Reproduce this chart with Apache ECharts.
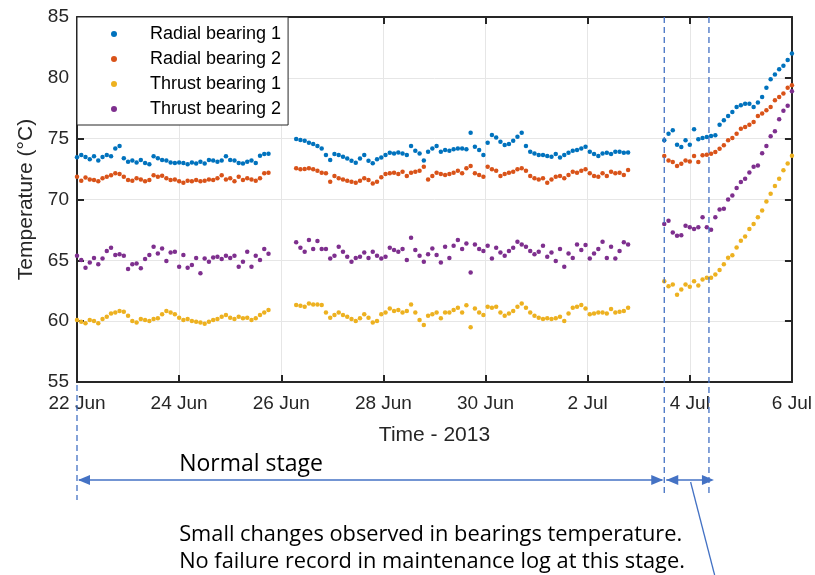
<!DOCTYPE html>
<html>
<head>
<meta charset="utf-8">
<script src="https://cdn.jsdelivr.net/npm/echarts@6/dist/echarts.min.js"></script>
<style>
html,body{margin:0;padding:0;background:#fff;}
#main{width:815px;height:575px;}
</style>
</head>
<body>
<div id="main"></div>
<script>
// ---- data (hours since 22 Jun 2013 00:00, one reading every 2 h per segment) ----
const seriesNames = ['Radial bearing 1', 'Radial bearing 2', 'Thrust bearing 1', 'Thrust bearing 2'];
const seriesColors = ['#0072BD', '#D95319', '#EDB120', '#7E2F8E'];
const segmentStartHours = [0, 103, 276];
const stepHours = 2;
const xTickLabels = ['22 Jun', '24 Jun', '26 Jun', '28 Jun', '30 Jun', '2 Jul', '4 Jul', '6 Jul'];
const stageBoundaryHours = [0, 276, 297];

const radial1Seg1 = [73.47,73.66,73.5,73.3,73.55,73.2,73.5,73.66,73.55,74.2,74.4,73.4,73.1,73.2,73.05,73.25,73.0,72.9,73.55,73.4,73.25,73.2,73.05,73.0,73.05,73.0,72.9,73.05,72.95,73.1,72.95,73.25,73.2,73.1,73.2,73.55,73.25,73.2,73.0,72.95,73.1,73.2,73.0,73.6,73.74,73.77];
const radial1Seg2 = [74.97,74.89,74.83,74.67,74.56,74.39,74.2,73.65,73.24,73.74,73.65,73.52,73.38,73.19,73.02,73.38,73.65,73.19,72.97,73.3,73.46,73.65,73.85,73.79,73.87,73.79,73.65,74.39,74.01,73.79,73.2,73.93,74.2,74.39,73.93,74.06,74.01,74.12,74.2,
  74.2,74.12,75.49,74.34,74.06,73.65,74.67,75.3,75.1,74.75,74.48,74.56,74.83,75.16,75.49,74.39,73.93,73.79,73.65,73.65,73.57,73.52,73.74,73.46,73.65,73.85,74.01,74.06,74.2,74.34,73.93,73.74,73.57,73.79,73.85,73.74,73.93,73.93,73.85,73.87];
const radial1Seg3 = [74.86,75.41,75.69,74.51,74.31,74.86,74.51,75.77,74.95,75.06,75.14,75.22,75.28,76.15,76.51,76.87,77.2,77.61,77.75,77.88,77.88,77.61,77.97,78.43,79.18,79.89,80.27,80.71,80.99,81.46,82.0];

const radial2Seg1 = [71.87,71.55,71.8,71.65,71.6,71.5,71.75,71.87,72.0,72.15,72.1,71.87,71.6,71.55,71.75,71.65,71.5,71.6,72.0,71.87,71.95,71.75,71.6,71.65,71.5,71.37,71.55,71.5,71.6,71.5,71.55,71.65,71.6,71.75,72.0,71.65,71.75,71.5,71.87,71.6,71.75,71.65,71.55,71.75,72.15,72.2];
const radial2Seg2 = [72.56,72.48,72.5,72.56,72.48,72.37,72.2,72.15,71.46,71.93,71.74,71.65,71.54,71.46,71.38,71.54,71.74,71.6,71.32,71.46,71.82,72.09,72.15,72.2,72.09,72.28,71.93,72.2,72.28,72.37,72.7,71.65,71.93,72.2,72.09,72.01,72.09,72.2,72.37,
  72.15,72.56,72.75,72.15,72.01,71.87,72.7,72.48,72.37,71.93,72.09,72.2,72.28,72.48,72.56,72.37,71.93,71.74,71.65,71.74,71.38,71.65,71.87,71.93,71.74,72.01,72.28,72.2,72.37,72.48,72.15,71.93,71.87,72.15,71.93,72.28,72.15,72.2,72.01,72.42];
const radial2Seg3 = [73.57,73.21,73.08,72.75,72.94,73.21,73.13,73.57,73.08,73.63,73.68,73.76,73.9,74.18,74.45,74.86,75.06,75.41,75.82,75.96,76.15,76.37,76.87,77.06,77.34,77.61,78.16,78.43,78.71,79.18,79.4];

const thrust1Seg1 = [60.09,59.95,59.82,60.09,60.01,59.82,60.17,60.37,60.64,60.72,60.83,60.78,60.45,60.01,59.9,60.17,60.09,60.01,60.17,60.23,60.56,60.83,60.72,60.56,60.28,60.09,60.17,60.01,59.95,59.9,59.79,59.95,60.09,60.17,60.37,60.5,60.28,60.17,60.37,60.23,60.28,60.09,60.23,60.5,60.72,60.91];
const thrust1Seg2 = [61.32,61.27,61.19,61.46,61.38,61.38,61.32,60.72,60.28,60.5,60.72,60.5,60.37,60.17,60.01,60.23,60.56,60.28,59.9,60.01,60.56,60.72,61.05,60.83,60.91,60.72,60.83,61.38,60.72,60.09,59.68,60.45,60.56,60.72,60.23,60.72,60.72,60.91,61.1,
  60.72,61.3,59.5,61.05,60.72,60.5,61.19,61.1,61.19,60.72,60.45,60.64,60.83,61.19,61.46,61.1,60.72,60.45,60.28,60.17,60.23,60.17,60.23,60.37,60.01,60.64,61.1,61.19,61.32,61.05,60.56,60.64,60.72,60.72,60.64,60.99,60.72,60.78,60.83,61.1];
const thrust1Seg3 = [63.29,62.87,63.01,62.18,62.6,63.01,62.82,63.29,62.93,63.43,63.56,63.56,63.84,64.2,64.67,65.22,65.42,66.05,66.6,66.96,67.57,67.98,68.54,69.09,69.83,70.47,71.1,71.71,72.4,72.96,73.59];

const thrust2Seg1 = [65.38,65.02,64.4,64.83,65.2,64.67,65.16,65.76,66.04,65.43,65.49,65.38,64.28,64.67,64.75,64.34,65.1,65.43,66.12,65.57,65.98,64.94,65.65,65.71,64.48,65.43,64.4,64.61,65.2,63.93,65.16,64.89,65.24,65.3,65.1,65.38,65.2,65.38,64.48,64.89,65.71,64.48,65.38,65.02,65.93,65.54];
const thrust2Seg2 = [66.48,66.04,65.71,66.67,65.93,66.58,65.93,65.93,65.16,65.38,66.12,65.71,65.3,64.89,65.2,65.3,65.65,65.2,65.71,65.38,65.16,65.3,66.04,65.85,65.71,65.93,65.02,66.86,65.85,65.38,64.89,65.49,65.98,65.43,64.83,66.12,65.2,66.2,66.67,
  65.93,66.39,64.01,66.31,65.93,65.76,66.2,65.16,66.04,65.65,65.38,65.76,66.04,66.53,66.31,66.12,65.76,65.49,65.71,66.2,65.3,65.65,64.94,65.93,64.48,65.57,65.2,66.31,65.85,66.26,65.16,65.57,65.93,66.53,65.2,66.12,65.16,65.76,66.48,66.31];
const thrust2Seg3 = [67.98,68.26,67.29,67.02,67.07,67.85,67.71,67.57,67.71,68.54,67.71,67.51,68.54,69.17,69.23,70.0,70.33,70.94,71.44,71.71,72.21,72.7,72.8,73.8,74.4,75.2,75.6,76.6,77.3,77.7,78.9];

const seriesSegments = [
  [radial1Seg1, radial1Seg2, radial1Seg3],
  [radial2Seg1, radial2Seg2, radial2Seg3],
  [thrust1Seg1, thrust1Seg2, thrust1Seg3],
  [thrust2Seg1, thrust2Seg2, thrust2Seg3]
];

// ---- build chart ----
function toPoints(segs) {
  const pts = [];
  segs.forEach((vals, s) => {
    vals.forEach((v, i) => pts.push([segmentStartHours[s] + i * stepHours, v]));
  });
  return pts;
}

const axisColor = '#262626';
const tickFont = 'Liberation Sans';
const chart = echarts.init(document.getElementById('main'), null, {renderer: 'canvas'});

const option = {
  animation: false,
  backgroundColor: '#fff',
  grid: {left: 77, right: 22, top: 17, bottom: 193, containLabel: false},
  legend: {
    left: 77, top: 17, orient: 'vertical',
    padding: [8, 7, 7, 34], itemGap: 7,
    itemWidth: 6, itemHeight: 6, icon: 'circle',
    backgroundColor: '#fff', borderColor: axisColor, borderWidth: 1,
    data: seriesNames,
    formatter: n => '{g|}{n|' + n + '}',
    textStyle: {
      rich: {
        g: {width: 28},
        n: {fontSize: 18, lineHeight: 18, fontFamily: tickFont, color: '#000'}
      }
    },
    z: 20
  },
  xAxis: [{
    type: 'value', min: 0, max: 336, interval: 48, position: 'bottom',
    axisLine: {show: true, onZero: false, lineStyle: {color: axisColor, width: 2}},
    axisTick: {show: true, inside: true, length: 7, lineStyle: {color: axisColor, width: 2}},
    axisLabel: {fontSize: 19, fontFamily: tickFont, color: axisColor, margin: 12,
      formatter: v => xTickLabels[Math.round(v / 48)]},
    splitLine: {show: true, lineStyle: {color: '#e6e6e6', width: 1}},
    name: 'Time - 2013', nameLocation: 'middle', nameGap: 43,
    nameTextStyle: {fontSize: 21, fontFamily: tickFont, color: axisColor}
  }, {
    type: 'value', min: 0, max: 336, interval: 48, position: 'top',
    axisLine: {show: true, onZero: false, lineStyle: {color: axisColor, width: 2}},
    axisTick: {show: true, inside: true, length: 7, lineStyle: {color: axisColor, width: 2}},
    axisLabel: {show: false}, splitLine: {show: false}
  }],
  yAxis: [{
    type: 'value', min: 55, max: 85, interval: 5, position: 'left',
    axisLine: {show: true, onZero: false, lineStyle: {color: axisColor, width: 2}},
    axisTick: {show: true, inside: true, length: 7, lineStyle: {color: axisColor, width: 2}},
    axisLabel: {fontSize: 19, fontFamily: tickFont, color: axisColor, margin: 8},
    splitLine: {show: true, lineStyle: {color: '#e6e6e6', width: 1}},
    name: 'Temperature (\u00B0C)', nameLocation: 'middle', nameGap: 38,
    nameTextStyle: {fontSize: 21, fontFamily: tickFont, color: axisColor}
  }, {
    type: 'value', min: 55, max: 85, interval: 5, position: 'right',
    axisLine: {show: true, onZero: false, lineStyle: {color: axisColor, width: 2}},
    axisTick: {show: true, inside: true, length: 7, lineStyle: {color: axisColor, width: 2}},
    axisLabel: {show: false}, splitLine: {show: false}
  }],
  series: seriesNames.map((name, k) => ({
    name: name, type: 'scatter', symbol: 'circle', symbolSize: 4.5,
    itemStyle: {color: seriesColors[k], opacity: 1},
    data: toPoints(seriesSegments[k]),
    z: 2 + k
  }))
};
chart.setOption(option);

// ---- stage annotations, positioned from the axis scale ----
const px = h => chart.convertToPixel({xAxisIndex: 0}, h);
const py = v => chart.convertToPixel({yAxisIndex: 0}, v);
const annColor = '#4472C4';
const x0 = px(stageBoundaryHours[0]);
const x1 = px(stageBoundaryHours[1]);
const x2 = px(stageBoundaryHours[2]);
const yTop = py(85), yBot = py(55);
const arrowY = 480;
const dash = {stroke: annColor, lineWidth: 1.3, lineDash: [6, 4]};
const solid = {stroke: annColor, lineWidth: 1.3};
function head(xTip, dir) {
  return {type: 'polygon', z: 30, shape: {points: [[xTip, arrowY], [xTip - dir * 12, arrowY - 5], [xTip - dir * 12, arrowY + 5]]},
    style: {fill: annColor}};
}
const annFont = 'Open Sans';
const graphics = [
  {type: 'line', z: 30, shape: {x1: x0, y1: yBot + 3, x2: x0, y2: 500}, style: dash},
  {type: 'line', z: 30, shape: {x1: x1, y1: yTop, x2: x1, y2: 497}, style: dash},
  {type: 'line', z: 30, shape: {x1: x2, y1: yTop, x2: x2, y2: 497}, style: dash},
  {type: 'line', z: 30, shape: {x1: x0 + 2, y1: arrowY, x2: x1 - 2, y2: arrowY}, style: solid},
  head(x0 + 1, -1), head(x1 - 1, 1),
  {type: 'line', z: 30, shape: {x1: x1 + 2, y1: arrowY, x2: x2 + 1, y2: arrowY}, style: solid},
  head(x1 + 2, -1), head(x2 + 5, 1),
  {type: 'line', z: 30, shape: {x1: (x1 + x2) / 2 + 4, y1: arrowY + 2, x2: (x1 + x2) / 2 + 28, y2: 575}, style: solid},
  {type: 'text', z: 30, style: {text: 'Normal stage', x: px(48), y: 476, fontSize: 23, fontFamily: annFont,
    fill: '#000', verticalAlign: 'bottom'}},
  {type: 'text', z: 30, style: {text: 'Small changes observed in bearings temperature.', x: px(48), y: 546, fontSize: 21.8,
    fontFamily: annFont, fill: '#000', verticalAlign: 'bottom'}},
  {type: 'text', z: 30, style: {text: 'No failure record in maintenance log at this stage.', x: px(48), y: 573, fontSize: 21.8,
    fontFamily: annFont, fill: '#000', verticalAlign: 'bottom'}}
];
chart.setOption({graphic: graphics});
</script>
</body>
</html>
